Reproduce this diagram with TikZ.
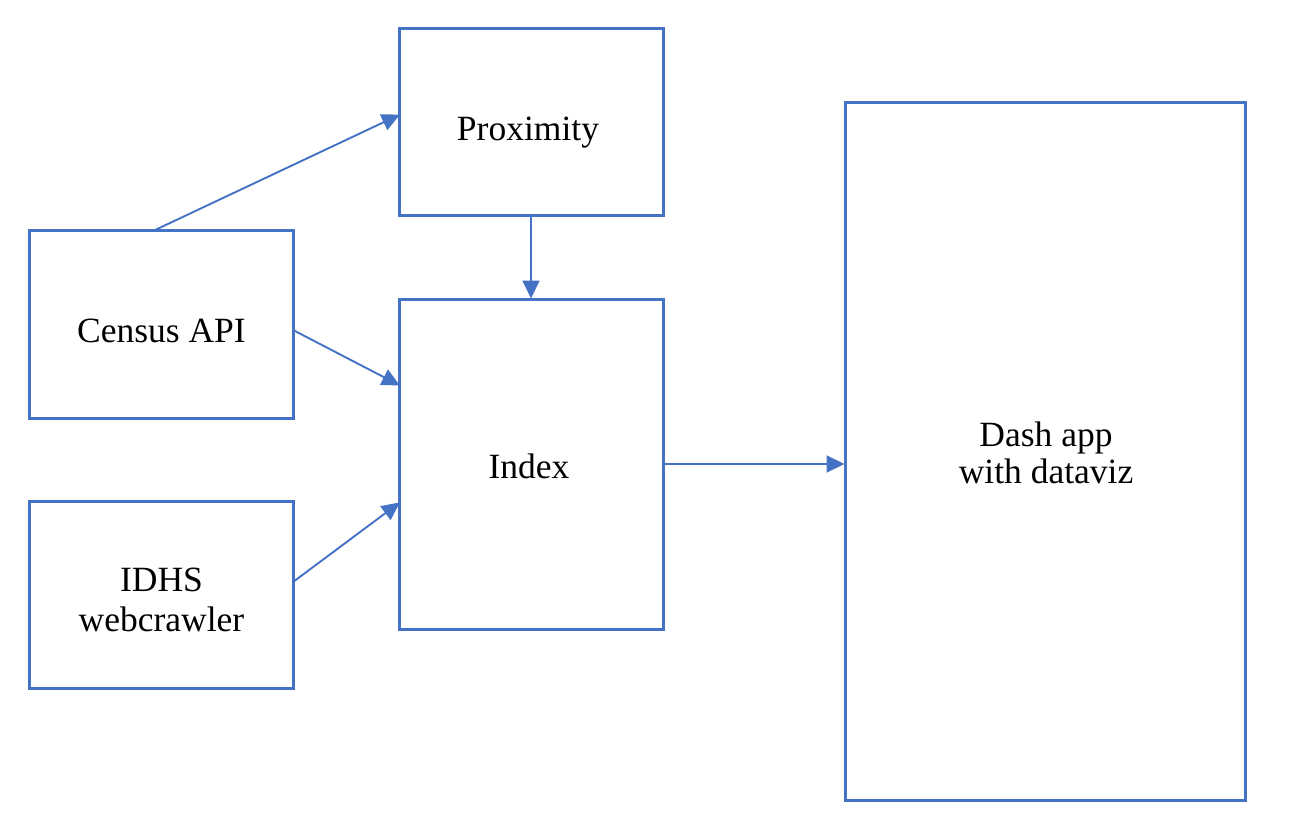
\documentclass[tikz,border=0pt]{standalone}
\usepackage{fontspec}
\setmainfont{Liberation Serif}
\usetikzlibrary{arrows.meta}
\definecolor{boxblue}{HTML}{4472C4}
\begin{document}
\begin{tikzpicture}[x=1pt,y=-1pt,
  blockbox/.style={draw=boxblue, line width=3pt, minimum width=264pt, inner sep=0pt},
  boxtext/.style={anchor=base, inner sep=0pt, align=center, font=\fontsize{35.5}{40}\selectfont},
  conn/.style={draw=boxblue, line width=1.9pt, -{Triangle[length=18pt,width=17pt]}, shorten >=-1pt}]
\useasboundingbox (0,0) rectangle (1292,826);
\node[blockbox, minimum height=187pt] (prox) at (531,122.5) {};
\node[blockbox, minimum height=187pt] (census) at (161,324.5) {};
\node[blockbox, minimum height=330pt] (index) at (531,464) {};
\node[blockbox, minimum height=187pt] (idhs) at (161,594.5) {};
\node[blockbox, minimum width=400pt, minimum height=697pt] (dash) at (1045,451.5) {};
\node[boxtext] (proxt) at (528,141) {Proximity};
\node[boxtext] (censust) at (161.5,342) {Census API};
\node[boxtext] (indext) at (529,478) {Index};
\node[boxtext, font=\fontsize{35.5}{40}\selectfont] (idhst) at (161.5,631) {IDHS\\webcrawler};
\node[boxtext, font=\fontsize{35.5}{37}\selectfont] (dasht) at (1046,483) {Dash app\\with dataviz};
\coordinate (c1) at (153,231);
\coordinate (p1) at (399,115);
\coordinate (c2) at (293,330);
\coordinate (i1) at (399,385);
\coordinate (d2) at (293,582);
\coordinate (i2) at (399,503);
\draw[conn] (c1) -- (p1);
\draw[conn] (prox.south) -- (index.north);
\draw[conn] (c2) -- (i1);
\draw[conn] (d2) -- (i2);
\draw[conn] (index.east) -- (index.east -| dash.west);
\end{tikzpicture}
\end{document}
